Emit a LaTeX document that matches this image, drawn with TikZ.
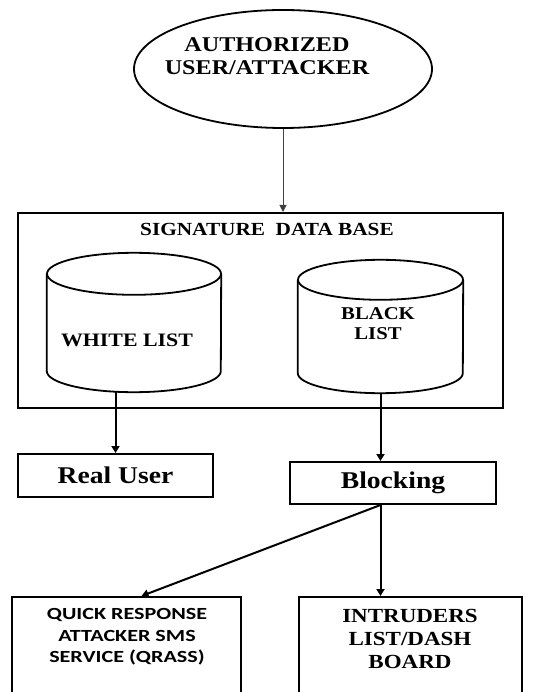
\documentclass[tikz,border=0pt]{standalone}
\usepackage{fontspec}
\setmainfont{Liberation Serif}
\newfontfamily\wideserif[FakeStretch=1.15]{Liberation Serif}
\newfontfamily\widesans[FakeStretch=1.3]{Carlito}
\usetikzlibrary{arrows.meta,positioning,calc,shapes.geometric}
\newcommand{\fsz}[1]{\fontsize{#1}{1.1\dimexpr#1pt\relax}\selectfont}
\tikzset{
  box/.style={draw, line width=2pt, inner sep=0pt},
  dbarea/.style={inner sep=0pt},
  cyl/.style={line width=1.8pt},
  lbl/.style={font=\wideserif\bfseries, align=center, inner sep=0pt},
  slbl/.style={font=\widesans\bfseries, align=center, inner sep=0pt},
  flow/.style={-{Triangle[length=7pt,width=8pt]}, line width=2pt},
  thinarr/.style={-{Triangle[length=7pt,width=7pt]}, line width=1pt, black!75},
}
% database drum on a named node: #1 node, #2 half width, #3 cap half height
\newcommand{\drum}[3]{%
  \draw[cyl] ($(#1.north)+(0,#3)$) ellipse [x radius=#2pt, y radius=#3pt];
  \draw[cyl] ($(#1.north west)+(0,#3)$) -- ($(#1.south west)+(0,-#3)$)
    arc [start angle=180, end angle=360, x radius=#2pt, y radius=#3pt]
    -- ($(#1.north east)+(0,#3)$);
}

\begin{document}
\begin{tikzpicture}[x=1pt, y=-1pt]
  \useasboundingbox (0,0) rectangle (557,692);
  \clip (0,0) rectangle (557,692);
  % source
  \node[draw, ellipse, line width=1.8pt, minimum width=298pt, minimum height=118pt] (usr) at (283,69) {};
  \node[lbl, font=\wideserif\bfseries\fsz{21}] (usrt) at (267,56) {AUTHORIZED\\USER/ATTACKER};
  % signature data base
  \node[box, minimum width=485pt, minimum height=195pt] (sig) at (260.5,310.5) {};
  \node[lbl, font=\wideserif\bfseries\fsz{18.5}] (sigt) at (267,229) {SIGNATURE~~DATA~BASE};
  \node[dbarea, minimum width=174pt, minimum height=139pt] (wl) at (134,322.5) {};
  \drum{wl}{87}{21}
  \node[lbl, font=\wideserif\bfseries\fsz{19}] (wlt) at (127,340) {WHITE LIST};
  \node[dbarea, minimum width=165pt, minimum height=133pt] (bl) at (380.5,326.5) {};
  \drum{bl}{82.5}{20}
  \node[lbl, font=\wideserif\bfseries\fsz{18}] (blt) at (378,324) {BLACK\\LIST};
  % outcomes
  \node[box, minimum width=195pt, minimum height=43pt, font=\wideserif\bfseries\fsz{24}] (ru) at (115.5,475.5) {Real User};
  \node[box, minimum width=206pt, minimum height=42pt, font=\wideserif\bfseries\fsz{24}] (blk) at (393,483) {Blocking};
  \node[box, minimum width=229pt, minimum height=120pt] (qr) at (126.5,657) {};
  \node[slbl, font=\widesans\bfseries\fontsize{17}{21.5}\selectfont] (qrt) at (127,637) {QUICK RESPONSE\\ATTACKER SMS\\SERVICE (QRASS)};
  \node[box, minimum width=223pt, minimum height=120pt] (ids) at (410.5,657) {};
  \node[lbl, font=\wideserif\bfseries\fontsize{20}{23}\selectfont] (idst) at (410,639) {INTRUDERS\\LIST/DASH\\BOARD};
  % connectors
  \draw[thinarr] (usr.south) -- (usr.south |- sig.north);
  \draw[flow] (ru.north |- wl.south) -- (ru.north);
  \draw[flow] (bl.south) -- (bl.south |- blk.north);
  \coordinate (fork) at (bl.south |- blk.south);
  \draw[flow] (fork) -- (fork |- ids.north);
  \draw[flow] (fork) -- ($(qr.north)+(15,0)$);
\end{tikzpicture}
\end{document}
